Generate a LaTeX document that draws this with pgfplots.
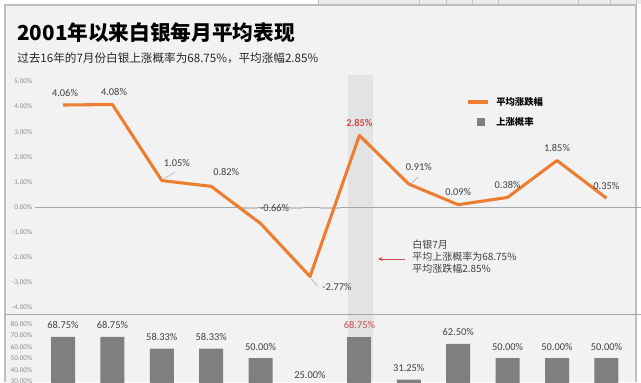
\documentclass[border=0pt]{standalone}
\usepackage{pgfplots}
\pgfplotsset{compat=1.18}
\usepackage{fontspec}
\setmainfont{Carlito}
\newfontfamily\cjk{Noto Sans CJK SC}
\usetikzlibrary{arrows.meta}
\definecolor{bg}{HTML}{F2F2F2}
\definecolor{band}{HTML}{E3E3E3}
\definecolor{orangel}{HTML}{ED7D31}
\definecolor{barc}{HTML}{7F7F7F}
\definecolor{lab}{HTML}{404040}
\definecolor{tickc}{HTML}{8C8C8C}
\definecolor{redl}{HTML}{D04A4A}
\definecolor{framec}{HTML}{BFBFBF}
\newcommand\Q[2]{({(#1)*0.75pt},{(382-(#2))*0.75pt})}
\newcommand\DL[5]{\node[font=\fontsize{7.8}{8}\selectfont, text=lab, inner sep=0pt, xshift={(#3)*0.75pt}, yshift={-(#4)*0.75pt}] at (axis cs:#1,#2) {#5};}
\pgfplotsset{/pgf/number format/assume math mode=true}
\begin{document}
\begin{tikzpicture}
\fill[white] (0,0) rectangle (480.75pt,286.5pt);
\begin{pgfinterruptboundingbox}
% spreadsheet strip
\fill[black!8] \Q{318}{0} rectangle \Q{641}{4};
\foreach \xx in {318,419,446,472,498,578,610,636}{\draw[framec, line width=0.5pt] \Q{\xx}{0} -- \Q{\xx}{4};}
\fill[bg] \Q{5}{5} rectangle \Q{636}{382};
\draw[framec, line width=0.9pt] \Q{5}{382} -- \Q{5}{5} -- \Q{636}{5} -- \Q{636}{382};
% highlight band for July
\fill[band] \Q{347.5}{75} rectangle \Q{372.5}{382};
% titles
\node[anchor=west, inner sep=0pt, font=\cjk\bfseries\fontsize{15.5}{16}\selectfont] at \Q{17}{32.5} {2001年以来白银每月平均表现};
\node[anchor=west, inner sep=0pt, font=\cjk\fontsize{8.7}{9}\selectfont, text=black!85] at \Q{17}{58} {过去16年的7月份白银上涨概率为68.75\%，平均涨幅2.85\%};
% separator
\draw[black!35, line width=0.6pt] \Q{5}{314} -- \Q{641}{314};
% top axis
\begin{axis}[
  at={(28.725pt,52.2pt)}, anchor=south west, scale only axis,
  width=444.6pt, height=178.9pt,
  xmin=-0.5, xmax=11.5, ymin=-4.2, ymax=5.3,
  axis line style={draw=none}, xtick=\empty, ytick={-4,-3,...,5}, major tick length=0pt,
  yticklabel={\pgfmathprintnumber[fixed,fixed zerofill,precision=2]{\tick}\%},
  yticklabel style={font=\fontsize{5.4}{6}\selectfont, text=tickc, anchor=east, xshift=-1pt},
  clip=false,
]
\draw[black!35, line width=0.6pt] (axis cs:-0.567,0) -- (axis cs:11.75,0);
% leader-line smudges
\draw[black!22, line width=1.2pt] (axis cs:3.6,-0.04) -- (axis cs:3.95,-0.04);
\draw[black!22, line width=1.2pt] (axis cs:4.6,-0.04) -- (axis cs:4.85,-0.04);
\draw[black!22, line width=1.2pt] (axis cs:5.2,-0.04) -- (axis cs:5.6,-0.04);
\draw[black!30, line width=0.5pt] (axis cs:2.045,1.12) -- (axis cs:2.267,1.39);
\draw[black!30, line width=0.5pt] (axis cs:7.024,0.876) -- (axis cs:7.186,1.195);
\draw[black!30, line width=0.5pt] (axis cs:5.02,-2.85) -- (axis cs:5.15,-3.15);
\addplot[orangel, line width=2.3pt, line join=round] coordinates {
(0,4.06) (1,4.08) (2,1.05) (3,0.82) (4,-0.66) (5,-2.77)
(6,2.85) (7,0.91) (8,0.09) (9,0.38) (10,1.85) (11,0.35)};
\DL{0}{4.06}{2}{-12.4}{4.06\%}
\DL{1}{4.08}{1.6}{-12.6}{4.08\%}
\DL{2}{1.05}{15}{-17.6}{1.05\%}
\DL{3}{0.82}{15}{-14.4}{0.82\%}
\DL{4}{-0.66}{14}{-15.6}{-0.66\%}
\DL{5}{-2.77}{27}{10.5}{-2.77\%}
\node[font=\bfseries\fontsize{7.8}{8}\selectfont, text=redl, inner sep=0pt, yshift={12.5*0.75pt}] at (axis cs:6,2.85) {2.85\%};
\DL{7}{0.91}{10}{-17}{0.91\%}
\DL{8}{0.09}{0}{-12.7}{0.09\%}
\DL{9}{0.38}{0}{-12.5}{0.38\%}
\DL{10}{1.85}{0}{-12.6}{1.85\%}
\DL{11}{0.35}{0}{-12}{0.35\%}
\end{axis}
% bottom axis
\begin{axis}[
  at={(28.725pt,-24.9pt)}, anchor=south west, scale only axis,
  width=444.6pt, height=75.9pt,
  xmin=-0.5, xmax=11.5, ymin=0, ymax=88.8,
  axis line style={draw=none}, xtick=\empty, ytick={30,40,...,80}, major tick length=0pt,
  yticklabel={\pgfmathprintnumber[fixed,fixed zerofill,precision=2]{\tick}\%},
  yticklabel style={font=\fontsize{5.4}{6}\selectfont, text=tickc, anchor=east, xshift=-1pt},
  clip=false,
]
\addplot[ybar, bar width=18pt, bar shift=0pt, fill=barc, draw=none,
  nodes near coords={\pgfmathprintnumber[fixed,fixed zerofill,precision=2]{\pgfplotspointmeta}\%},
  every node near coord/.append style={font=\fontsize{7.8}{8}\selectfont, text=lab, anchor=south, yshift=2.5pt}]
coordinates {(0,68.75) (1,68.75) (2,58.33) (3,58.33) (4,50.00) (5,25.00)
(7,31.25) (8,62.50) (9,50.00) (10,50.00) (11,50.00)};
\addplot[ybar, bar width=18pt, bar shift=0pt, fill=barc, draw=none,
  nodes near coords={\pgfmathprintnumber[fixed,fixed zerofill,precision=2]{\pgfplotspointmeta}\%},
  every node near coord/.append style={font=\fontsize{7.8}{8}\selectfont, text=redl, anchor=south, yshift=2.5pt}]
coordinates {(6,68.75)};
\end{axis}
% legend
\draw[orangel, line width=2.3pt] \Q{468}{102} -- \Q{488}{102};
\node[anchor=west, inner sep=0pt, font=\cjk\bfseries\fontsize{7}{7}\selectfont] at \Q{496}{102} {平均涨跌幅};
\fill[barc] \Q{477}{118} rectangle \Q{485}{126};
\node[anchor=west, inner sep=0pt, font=\cjk\bfseries\fontsize{7}{7}\selectfont] at \Q{496}{122} {上涨概率};
% annotation
\draw[redl, line width=0.7pt, -{Stealth[length=3.5pt,width=3pt]}] \Q{405}{259} -- \Q{378}{259};
\node[anchor=north west, align=left, inner sep=0pt, font=\cjk\fontsize{7.5}{9}\selectfont, text=lab] at \Q{412}{240} {白银7月\\平均上涨概率为68.75\%\\平均涨跌幅2.85\%};
\end{pgfinterruptboundingbox}
\end{tikzpicture}
\end{document}
